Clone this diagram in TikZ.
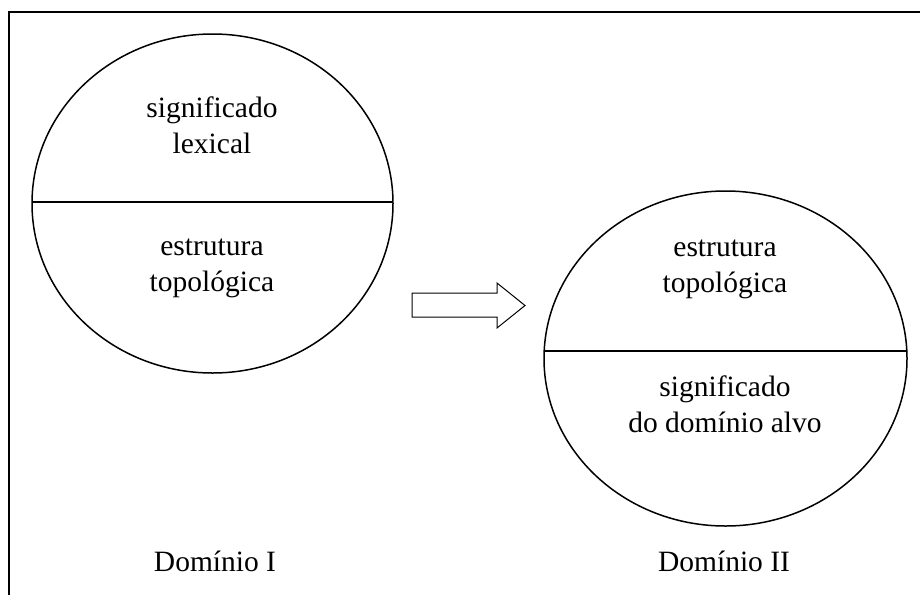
\documentclass[tikz,border=0pt]{standalone}
\usepackage{fontspec}
\setmainfont{Liberation Serif}
\usetikzlibrary{shapes.geometric, positioning}

\begin{document}
\begin{tikzpicture}[x=1pt,y=-1pt]
\tikzstyle{every node}=[font={\fontsize{29.5}{35.5}\selectfont}, align=center]
\tikzstyle{realm}=[ellipse, draw, line width=1.5pt, inner sep=0pt, outer sep=0pt]
\tikzstyle{divider}=[line width=1.5pt]

\useasboundingbox (0,0) rectangle (920,595);
\draw[line width=2.2pt] (9,595) -- (9,12) -- (920,12);

\node[realm, minimum width=361pt, minimum height=339pt] (D1) at (212.5,203.5) {};
\node[realm, minimum width=363pt, minimum height=335pt] (D2) at (725.5,358.5) {};

\draw[divider] ([yshift=1.5pt]D1.west) -- ([yshift=1.5pt]D1.east);
\draw[divider] ([yshift=7.5pt]D2.west) -- ([yshift=7.5pt]D2.east);

\node[anchor=base] (lexical) at (212,153) {significado\\lexical};
\node[anchor=base] (topo1) at (212,291) {estrutura\\topológica};
\node[anchor=base] (topo2) at (725,292) {estrutura\\topológica};
\node[anchor=base] (alvo) at (725,432) {significado\\do domínio alvo};

\draw[line width=1pt] (412,293) -- (497,293) -- (497,283) -- (525,305.5)
      -- (497,328) -- (497,317) -- (412,317) -- cycle;

\node[anchor=base] (dom1) at (215,571) {Domínio I};
\node[anchor=base] (dom2) at (724,571) {Domínio II};
\end{tikzpicture}
\end{document}
